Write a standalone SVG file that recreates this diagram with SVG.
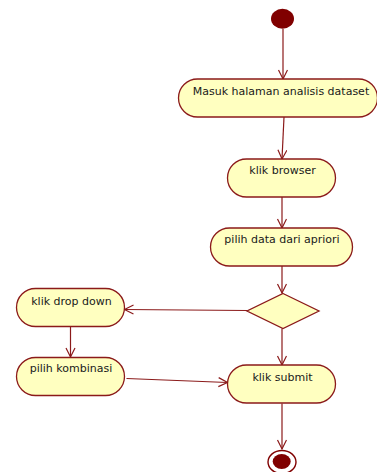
<svg xmlns="http://www.w3.org/2000/svg" width="377" height="472" viewBox="0 0 377 472">
<style>
.act{fill:#ffffc0;stroke:#8b1a1a;stroke-width:1.3}
.lbl{font-family:"DejaVu Sans",Verdana,sans-serif;font-size:11px;fill:#1a1a1a;text-anchor:middle}
.edge{fill:none;stroke:#8b1a1a;stroke-width:1.2;marker-end:url(#arr)}
</style>
<defs>
<marker id="arr" markerWidth="12" markerHeight="12" refX="10" refY="5" orient="auto" markerUnits="userSpaceOnUse">
<path d="M1,0.5 L10,5 L1,9.5" fill="none" stroke="#8b1a1a" stroke-width="1.2"/>
</marker>
</defs>
<rect width="377" height="472" fill="#ffffff"/>
<g id="connectors">
<line class="edge" x1="283" y1="29" x2="283" y2="79"/>
<line class="edge" x1="284" y1="117" x2="282" y2="159"/>
<line class="edge" x1="282" y1="197" x2="282" y2="228"/>
<line class="edge" x1="282" y1="266" x2="282" y2="293"/>
<line class="edge" x1="247" y1="310.5" x2="124.5" y2="309.5"/>
<line class="edge" x1="70.5" y1="326.5" x2="70.5" y2="357"/>
<line class="edge" x1="282" y1="328.5" x2="282" y2="365"/>
<line class="edge" x1="126.5" y1="378.5" x2="227.5" y2="382.5"/>
<line class="edge" x1="282" y1="403.5" x2="282" y2="449"/>
</g>
<g id="start"><ellipse cx="282.5" cy="18.7" rx="11.5" ry="10" fill="#800000"/></g>
<g id="masuk"><rect class="act" x="178.5" y="79" width="199" height="38" rx="19" ry="19"/><text class="lbl" x="281" y="94.5">Masuk halaman analisis dataset</text></g>
<g id="browser"><rect class="act" x="227.5" y="159" width="108" height="38" rx="19" ry="19"/><text class="lbl" x="282.5" y="174">klik browser</text></g>
<g id="pilihdata"><rect class="act" x="210.5" y="228" width="142" height="38" rx="19" ry="19"/><text class="lbl" x="282" y="243">pilih data dari apriori</text></g>
<g id="decision"><polygon class="act" points="283,293.5 319,311 283,328.5 247,311"/></g>
<g id="dropdown"><rect class="act" x="16.5" y="288.5" width="108" height="38" rx="19" ry="19"/><text class="lbl" x="71.5" y="304.5">klik drop down</text></g>
<g id="kombinasi"><rect class="act" x="16.5" y="357.5" width="108" height="38" rx="19" ry="19"/><text class="lbl" x="71" y="372">pilih kombinasi</text></g>
<g id="submit"><rect class="act" x="227.5" y="365" width="108" height="38" rx="19" ry="19"/><text class="lbl" x="282.5" y="380.5">klik submit</text></g>
<g id="end"><ellipse cx="282" cy="462" rx="14" ry="11.5" fill="#ffffff" stroke="#800000" stroke-width="1.4"/><ellipse cx="281.7" cy="461.5" rx="9" ry="7.5" fill="#800000"/></g>
</svg>
